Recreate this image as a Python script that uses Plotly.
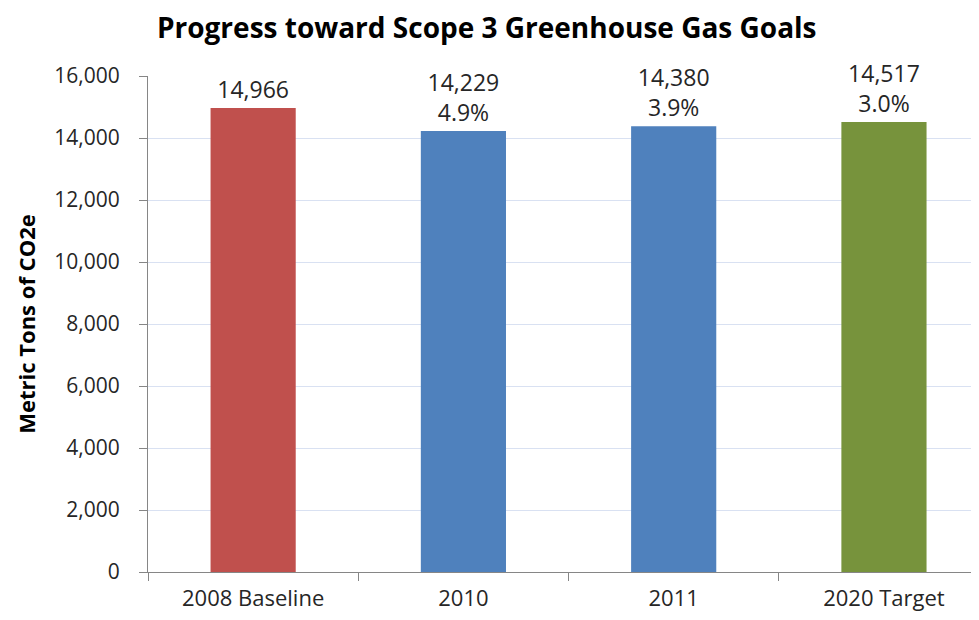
import plotly.graph_objects as go

categories = ["2008 Baseline", "2010", "2011", "2020 Target"]
values = [14966, 14229, 14380, 14517]
pct_labels = ["", "4.9%", "3.9%", "3.0%"]
colors = ["#C0504D", "#4F81BD", "#4F81BD", "#77933C"]

texts = []
for v, p in zip(values, pct_labels):
    t = f"{v:,}"
    if p:
        t += "<br>" + p
    texts.append(t)

FONT = "'Open Sans', sans-serif"

fig = go.Figure(go.Bar(
    x=categories, y=values,
    marker=dict(color=colors, line=dict(width=0)),
    text=texts, textposition="outside", cliponaxis=False,
    textfont=dict(family=FONT, size=23, color="#262626"),
    width=0.405,
))

fig.update_layout(
    width=979, height=620,
    margin=dict(l=140, r=0, t=68, b=56, autoexpand=False),
    paper_bgcolor="white", plot_bgcolor="white",
    showlegend=False,
    title=dict(text="<b>Progress toward Scope 3 Greenhouse Gas Goals</b>",
               x=0.489, xanchor="center", y=0.968, yanchor="middle",
               font=dict(family=FONT, size=28, color="black")),
    font=dict(family=FONT, color="#262626"),
)
fig.update_xaxes(
    type="category", range=[-0.5, 3.49],
    showline=True, linecolor="#868686", linewidth=1,
    ticks="outside", tickson="boundaries", ticklen=8, tickcolor="#868686",
    tickfont=dict(family=FONT, size=22, color="#262626"),
    ticklabelstandoff=7,
    showgrid=False,
)
fig.update_yaxes(
    range=[0, 16000], dtick=2000, tickformat=",",
    showline=True, linecolor="#868686", linewidth=1,
    ticks="outside", ticklen=8, tickcolor="#868686",
    showgrid=True, gridcolor="#D9E1F2", gridwidth=1,
    tickfont=dict(family=FONT, size=21, color="#262626"),
    ticklabelstandoff=15,
    title=dict(text="<b>Metric Tons of CO2e</b>", standoff=12,
               font=dict(family=FONT, size=22, color="black")),
    zeroline=False,
)

fig.write_html("out.html")
